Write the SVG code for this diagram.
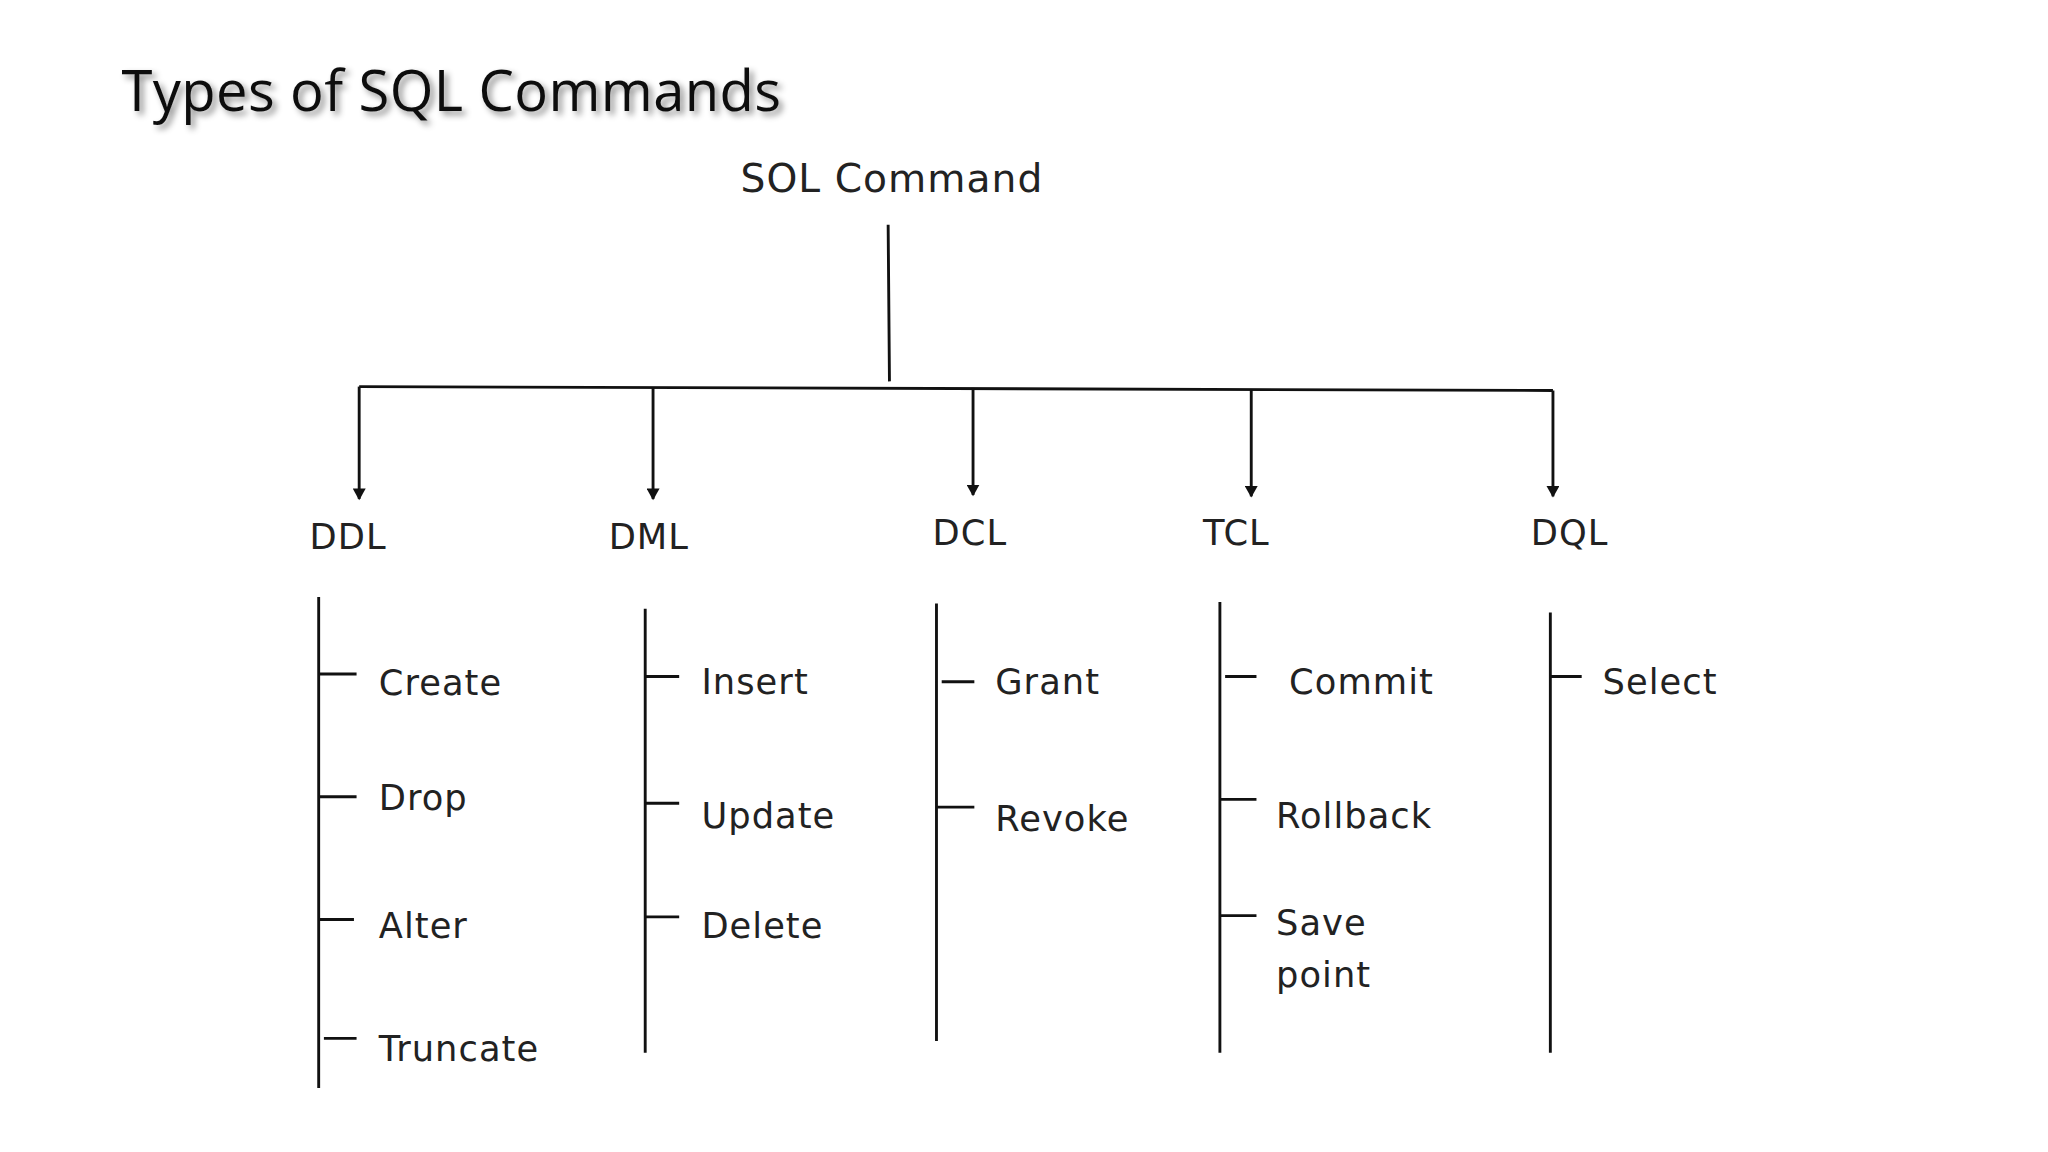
<svg xmlns="http://www.w3.org/2000/svg" width="2048" height="1152" viewBox="0 0 2048 1152">
<defs>
<style>
.t{font-family:"DejaVu Sans",sans-serif;font-size:27px;fill:#222;letter-spacing:0.8px}
.l{stroke:#111;stroke-width:2.2;fill:none}
</style>
<marker id="a" markerWidth="10" markerHeight="10" refX="5" refY="8" orient="0" markerUnits="userSpaceOnUse"><path d="M0,0 L10,0 L5,9 Z" fill="#111"/></marker>
<filter id="sh" x="-5%" y="-20%" width="110%" height="150%"><feDropShadow dx="3" dy="3" stdDeviation="2.5" flood-color="#000" flood-opacity="0.45"/></filter>
</defs>
<rect width="2048" height="1152" fill="#fff"/>
<g transform="scale(1.3061)">
<text x="93" y="85" filter="url(#sh)" style="font-family:'Open Sans','Liberation Sans',sans-serif;font-size:43px;fill:#111;letter-spacing:0.3px">Types of SQL Commands</text>
<g id="root"><text class="t" x="567" y="147" style="font-size:30px">SOL Command</text></g>
<g id="connectors">
<path class="l" d="M680,172 L681,292 M275,296 L1189,299"/>
<line class="l" marker-end="url(#a)" x1="275" y1="296" x2="275" y2="382"/>
<line class="l" marker-end="url(#a)" x1="500" y1="297" x2="500" y2="382"/>
<line class="l" marker-end="url(#a)" x1="745" y1="297" x2="745" y2="379"/>
<line class="l" marker-end="url(#a)" x1="958" y1="298" x2="958" y2="380"/>
<line class="l" marker-end="url(#a)" x1="1189" y1="299" x2="1189" y2="380"/>
<path class="l" d="M244,457 V833 M244,516 H273 M244,610 H273 M244,704 H271 M248,795 H273"/>
<path class="l" d="M494,466 V806 M494,518 H520 M494,615 H520 M494,702 H520"/>
<path class="l" d="M717,462 V797 M721,522 H746 M717,618 H746"/>
<path class="l" d="M934,461 V806 M938,518 H962 M934,612 H962 M934,701 H962"/>
<path class="l" d="M1187,469 V806 M1187,518 H1211"/>
</g>
<g id="ddl"><text class="t" x="237" y="420">DDL</text><text class="t" x="290" y="532">Create</text><text class="t" x="290" y="620">Drop</text><text class="t" x="290" y="718">Alter</text><text class="t" x="290" y="812">Truncate</text></g>
<g id="dml"><text class="t" x="466" y="420">DML</text><text class="t" x="537" y="531">Insert</text><text class="t" x="537" y="634">Update</text><text class="t" x="537" y="718">Delete</text></g>
<g id="dcl"><text class="t" x="714" y="417">DCL</text><text class="t" x="762" y="531">Grant</text><text class="t" x="762" y="636">Revoke</text></g>
<g id="tcl"><text class="t" x="921" y="417">TCL</text><text class="t" x="987" y="531">Commit</text><text class="t" x="977" y="634">Rollback</text><text class="t" x="977" y="716">Save</text><text class="t" x="977" y="756">point</text></g>
<g id="dql"><text class="t" x="1172" y="417">DQL</text><text class="t" x="1227" y="531">Select</text></g>
</g>
</svg>
